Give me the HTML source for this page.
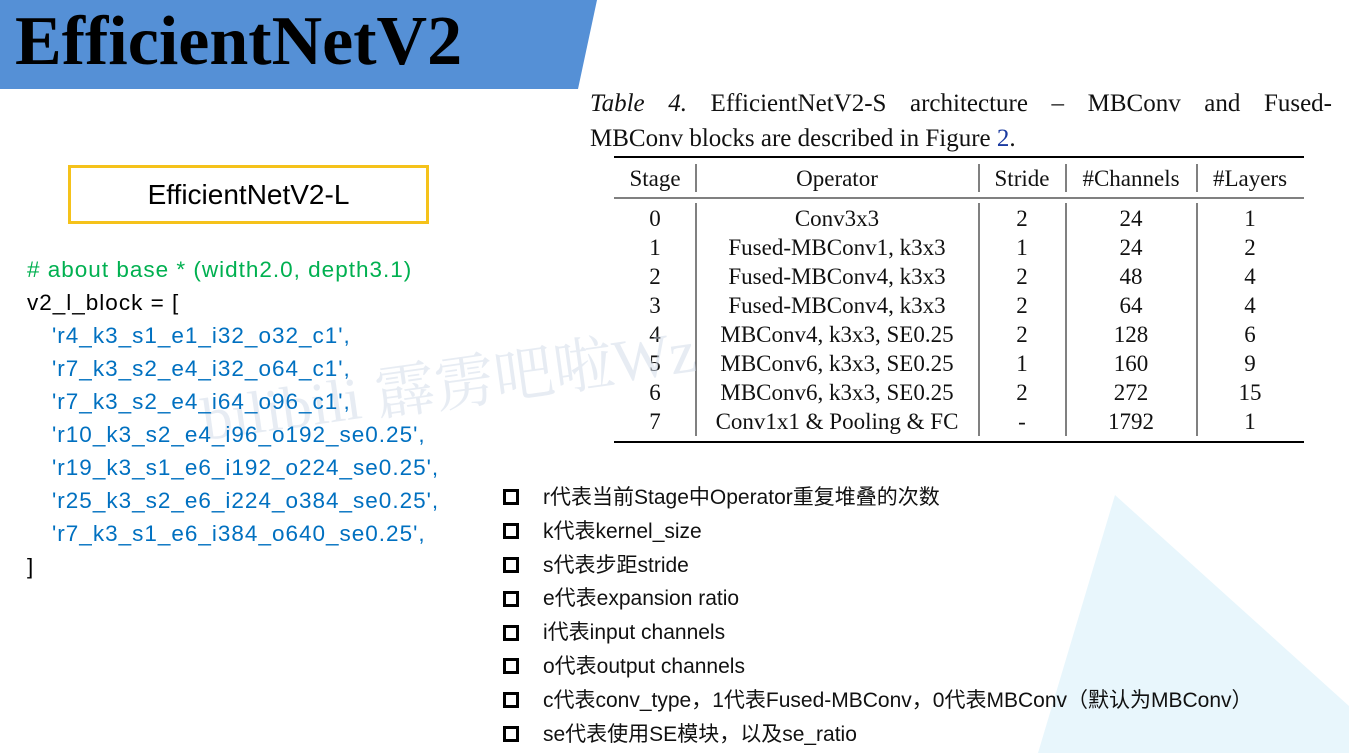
<!DOCTYPE html>
<html><head><meta charset="utf-8"><style>
body{margin:0;width:1349px;height:753px;position:relative;overflow:hidden;background:#fff;font-family:"Liberation Sans","Noto Sans CJK SC",sans-serif}
.a{position:absolute;white-space:nowrap}
.code{font-size:22.5px;line-height:33px;letter-spacing:1px}
.b{font-size:21px;color:#111}
.sq{position:absolute;width:10px;height:10px;border:3px solid #000;left:503px}
</style></head><body>
<svg class="a" style="left:0;top:0" width="1349" height="753">
<polygon points="0,0 597,0 578,89 0,89" fill="#5590d6"/>
<polygon points="1115,495 1349,706 1349,753 1038,753" fill="#e8f6fc"/>
<line x1="614" y1="157" x2="1304" y2="157" stroke="#000" stroke-width="2"/>
<line x1="614" y1="198" x2="1304" y2="198" stroke="#000" stroke-width="1"/>
<line x1="614" y1="442" x2="1304" y2="442" stroke="#000" stroke-width="2"/>
<g stroke="#000" stroke-width="1"><line x1="696" y1="164" x2="696" y2="192"/><line x1="979" y1="164" x2="979" y2="192"/><line x1="1066" y1="164" x2="1066" y2="192"/><line x1="1197" y1="164" x2="1197" y2="192"/>
<line x1="696" y1="203" x2="696" y2="436"/><line x1="979" y1="203" x2="979" y2="436"/><line x1="1066" y1="203" x2="1066" y2="436"/><line x1="1197" y1="203" x2="1197" y2="436"/></g>
<g font-family="Liberation Serif,serif" font-size="23" fill="#111" text-anchor="middle">
<text x="655" y="186">Stage</text><text x="837" y="186">Operator</text><text x="1022" y="186">Stride</text><text x="1131" y="186">#Channels</text><text x="1250" y="186">#Layers</text>
<text x="655" y="226">0</text><text x="837" y="226">Conv3x3</text><text x="1022" y="226">2</text><text x="1131" y="226">24</text><text x="1250" y="226">1</text>
<text x="655" y="255">1</text><text x="837" y="255">Fused-MBConv1, k3x3</text><text x="1022" y="255">1</text><text x="1131" y="255">24</text><text x="1250" y="255">2</text>
<text x="655" y="284">2</text><text x="837" y="284">Fused-MBConv4, k3x3</text><text x="1022" y="284">2</text><text x="1131" y="284">48</text><text x="1250" y="284">4</text>
<text x="655" y="313">3</text><text x="837" y="313">Fused-MBConv4, k3x3</text><text x="1022" y="313">2</text><text x="1131" y="313">64</text><text x="1250" y="313">4</text>
<text x="655" y="342">4</text><text x="837" y="342">MBConv4, k3x3, SE0.25</text><text x="1022" y="342">2</text><text x="1131" y="342">128</text><text x="1250" y="342">6</text>
<text x="655" y="371">5</text><text x="837" y="371">MBConv6, k3x3, SE0.25</text><text x="1022" y="371">1</text><text x="1131" y="371">160</text><text x="1250" y="371">9</text>
<text x="655" y="400">6</text><text x="837" y="400">MBConv6, k3x3, SE0.25</text><text x="1022" y="400">2</text><text x="1131" y="400">272</text><text x="1250" y="400">15</text>
<text x="655" y="429">7</text><text x="837" y="429">Conv1x1 &amp; Pooling &amp; FC</text><text x="1022" y="429">-</text><text x="1131" y="429">1792</text><text x="1250" y="429">1</text>
</g>
<text x="205" y="440" font-family="Liberation Serif,Noto Serif CJK SC,serif" font-size="60" fill="#d0dbe8" opacity="0.5" transform="rotate(-8 205 440)">bilibili 霹雳吧啦Wz</text>
</svg>
<div class="a" style="left:15px;top:0px;font-family:'Liberation Serif',serif;font-weight:bold;font-size:70px;line-height:84px;color:#000">EfficientNetV2</div>
<div class="a" style="left:590px;top:86px;width:742px;font-family:'Liberation Serif',serif;font-size:25px;line-height:35px;color:#111;white-space:normal">
<div style="text-align:justify;text-align-last:justify;white-space:nowrap"><i>Table 4.</i> EfficientNetV2-S architecture – MBConv and Fused-</div>
<div>MBConv blocks are described in Figure <span style="color:#1a3aa0">2</span>.</div></div>
<div class="a" style="left:68px;top:165px;width:355px;height:53px;border:3px solid #f5c21a;text-align:center;line-height:53px;font-size:28px;color:#000">EfficientNetV2-L</div>
<div class="a code" style="left:27px;top:253px">
<div style="color:#00b050"># about base * (width2.0, depth3.1)</div>
<div>v2_l_block = [</div>
<div style="color:#0070c0;padding-left:25px">'r4_k3_s1_e1_i32_o32_c1',<br>'r7_k3_s2_e4_i32_o64_c1',<br>'r7_k3_s2_e4_i64_o96_c1',<br>'r10_k3_s2_e4_i96_o192_se0.25',<br>'r19_k3_s1_e6_i192_o224_se0.25',<br>'r25_k3_s2_e6_i224_o384_se0.25',<br>'r7_k3_s1_e6_i384_o640_se0.25',</div>
<div>]</div>
</div>
<div class="sq" style="top:489px"></div><div class="sq" style="top:523px"></div><div class="sq" style="top:557px"></div><div class="sq" style="top:591px"></div><div class="sq" style="top:625px"></div><div class="sq" style="top:658px"></div><div class="sq" style="top:692px"></div><div class="sq" style="top:726px"></div>
<div class="a b" style="left:543px;top:481px;line-height:33.8px">r代表当前Stage中Operator重复堆叠的次数<br>k代表kernel_size<br>s代表步距stride<br>e代表expansion ratio<br>i代表input channels<br>o代表output channels<br>c代表conv_type，1代表Fused-MBConv，0代表MBConv（默认为MBConv）<br>se代表使用SE模块，以及se_ratio</div>
</body></html>
